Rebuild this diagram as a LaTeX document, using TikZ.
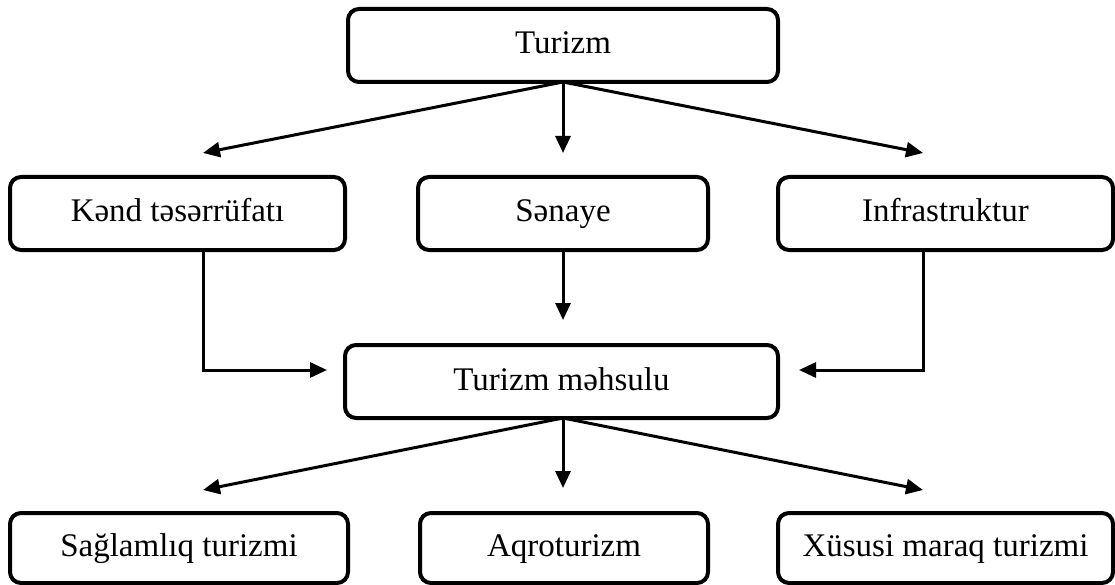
\documentclass[tikz,border=0pt]{standalone}
\usepackage{fontspec}
\setmainfont{Liberation Serif}
\usetikzlibrary{arrows.meta}
\begin{document}
\begin{tikzpicture}[x=1pt,y=-1pt,
  box/.style={draw, line width=4pt, rounded corners=11pt, inner sep=0pt,
    minimum height=73pt, text height=23pt, text depth=6pt,
    font=\fontsize{33}{40}\selectfont},
  link/.style={line width=3pt, -{Triangle[length=17pt,width=15pt]}}]
\useasboundingbox (0,0) rectangle (1115,585);
\fill[white] (0,0) rectangle (1115,585);

% boxes
\node[box, minimum width=430pt] (top)   at (563,45.5)   {Turizm};
\node[box, minimum width=335pt] (kend)  at (177.5,213.5) {Kənd təsərrüfatı};
\node[box, minimum width=290pt] (sen)   at (563,213.5)   {Sənaye};
\node[box, minimum width=335pt] (infra) at (945.5,213.5) {Infrastruktur};
\node[box, minimum width=433pt] (prod)  at (561.5,381.5) {Turizm məhsulu};
\node[box, minimum width=338pt, minimum height=70pt] (sag)  at (179,548)   {Sağlamlıq turizmi};
\node[box, minimum width=288pt, minimum height=70pt] (aqro) at (564,548)   {Aqroturizm};
\node[box, minimum width=335pt, minimum height=70pt] (xus)  at (945.5,548) {Xüsusi maraq turizmi};

% arrow end points
\coordinate (t1) at (203,153);
\coordinate (t2) at (563,153);
\coordinate (t3) at (923,153);
\coordinate (s1) at (563,320);
\coordinate (k1) at (203,250);
\coordinate (k2) at (203,370);
\coordinate (k3) at (327,370);
\coordinate (i1) at (923,250);
\coordinate (i2) at (923,370);
\coordinate (i3) at (799,370);
\coordinate (b1) at (203,490);
\coordinate (b2) at (563,488);
\coordinate (b3) at (923,490);
\coordinate (ts) at (563,82);
\coordinate (ps) at (563,418);

% connectors
\draw[link] (ts) -- (t1);
\draw[link] (ts) -- (t2);
\draw[link] (ts) -- (t3);
\draw[link] (sen.south) -- (s1);
\draw[link] (k1) -- (k2) -- (k3);
\draw[link] (i1) -- (i2) -- (i3);
\draw[link] (ps) -- (b1);
\draw[link] (ps) -- (b2);
\draw[link] (ps) -- (b3);
\end{tikzpicture}
\end{document}
